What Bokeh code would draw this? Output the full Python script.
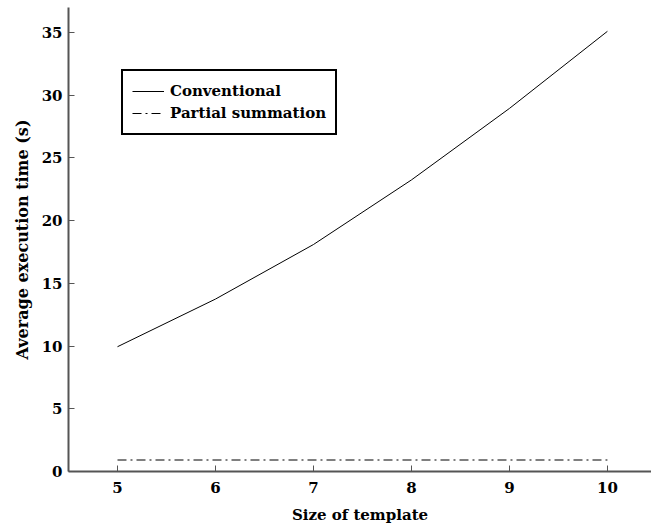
from bokeh.plotting import figure
from bokeh.models import Range1d, Legend, LegendItem, FixedTicker
from bokeh.embed import file_html
from bokeh.resources import INLINE

template_size = [5, 6, 7, 8, 9, 10]
conventional = [9.95, 13.75, 18.1, 23.25, 28.95, 35.1]
partial_summation = [0.92, 0.92, 0.92, 0.92, 0.92, 0.92]
x_ticks = [5, 6, 7, 8, 9, 10]
y_ticks = [0, 5, 10, 15, 20, 25, 30, 35]

FONT = "DejaVu Serif"

p = figure(width=651, height=528, output_backend="svg", toolbar_location=None,
           x_range=Range1d(4.5, 10.45), y_range=Range1d(0, 37),
           min_border_left=68, min_border_right=0, min_border_top=7, min_border_bottom=57)
p.outline_line_color = None
p.grid.visible = False
p.background_fill_color = "white"

r1 = p.line(template_size, conventional, line_color="black", line_width=1)
r2 = p.line(template_size, partial_summation, line_color="black", line_width=1.1, line_dash="9 4 2 4")

for ax in (p.xaxis[0], p.yaxis[0]):
    ax.axis_line_color = "#555555"
    ax.axis_line_width = 2
    ax.major_tick_line_color = "#555555"
    ax.major_tick_in = 6
    ax.major_tick_out = 0
    ax.minor_tick_line_color = None
    ax.major_label_text_font = FONT
    ax.major_label_text_font_style = "bold"
    ax.major_label_text_font_size = "15px"
    ax.major_label_text_color = "black"
    ax.axis_label_text_font = FONT
    ax.axis_label_text_font_style = "bold"
    ax.axis_label_text_font_size = "15px"
    ax.axis_label_text_color = "black"

p.yaxis.axis_label_text_font_size = "16px"
p.xaxis.ticker = FixedTicker(ticks=x_ticks)
p.yaxis.ticker = FixedTicker(ticks=y_ticks)
p.xaxis.axis_label = "Size of template"
p.yaxis.axis_label = "Average execution time (s)"
p.xaxis.major_label_standoff = 10
p.yaxis.major_label_standoff = 6
p.xaxis.axis_label_standoff = 10
p.yaxis.axis_label_standoff = 7

legend = Legend(items=[LegendItem(label="Conventional", renderers=[r1]),
                       LegendItem(label="Partial summation", renderers=[r2])],
                location=(53, 336))
legend.border_line_color = "black"
legend.border_line_alpha = 1
legend.border_line_width = 2
legend.background_fill_color = "white"
legend.background_fill_alpha = 1
legend.label_text_font = FONT
legend.label_text_font_style = "bold"
legend.label_text_font_size = "15px"
legend.label_text_color = "black"
legend.glyph_width = 32
legend.glyph_height = 22
legend.label_height = 22
legend.label_standoff = 6
legend.spacing = 0
legend.padding = 9
legend.margin = 0
p.add_layout(legend, "center")

open("out.html", "w").write(file_html(p, INLINE))
